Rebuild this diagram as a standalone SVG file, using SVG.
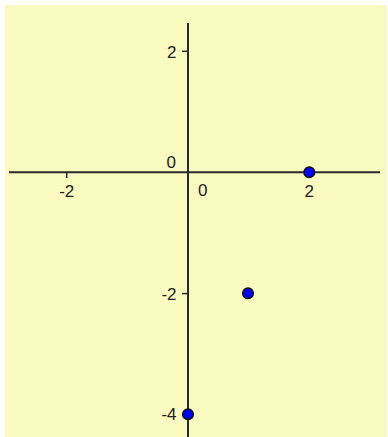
<svg xmlns="http://www.w3.org/2000/svg" width="388" height="437" viewBox="0 0 388 437">
<style>
.ax{stroke:#2a2a2a;stroke-width:2;fill:none}
.tk{stroke:#2a2a2a;stroke-width:1.5}
.lb{font-family:"Liberation Sans",Arial,sans-serif;font-size:17px;fill:#222}
.pt{fill:#0000ff;stroke:#111;stroke-width:1.5}
</style>
<rect width="388" height="437" fill="#ffffff"/>
<rect x="5" y="5" width="382" height="432" fill="#f8fac0"/>
<g id="axes">
<line class="ax" x1="9" y1="172.3" x2="380" y2="172.3"/>
<line class="ax" x1="188" y1="23" x2="188" y2="437"/>
<line class="tk" x1="66.7" y1="172" x2="66.7" y2="178"/>
<line class="tk" x1="309.3" y1="172" x2="309.3" y2="178"/>
<line class="tk" x1="182" y1="51.3" x2="188" y2="51.3"/>
<line class="tk" x1="182" y1="293.6" x2="188" y2="293.6"/>
<line class="tk" x1="182" y1="414.9" x2="188" y2="414.9"/>
</g>
<g id="labels">
<text class="lb" x="66.7" y="196.5" text-anchor="middle">-2</text>
<text class="lb" x="309.3" y="196.5" text-anchor="middle">2</text>
<text class="lb" x="198" y="195.5">0</text>
<text class="lb" x="176" y="167.5" text-anchor="end">0</text>
<text class="lb" x="176.5" y="57.5" text-anchor="end">2</text>
<text class="lb" x="176.5" y="299.5" text-anchor="end">-2</text>
<text class="lb" x="176.5" y="420" text-anchor="end">-4</text>
</g>
<g id="p1"><circle class="pt" cx="309.3" cy="172.3" r="5.3"/></g>
<g id="p2"><circle class="pt" cx="248" cy="293.3" r="5.3"/></g>
<g id="p3"><circle class="pt" cx="188" cy="414.3" r="5.3"/></g>
</svg>
